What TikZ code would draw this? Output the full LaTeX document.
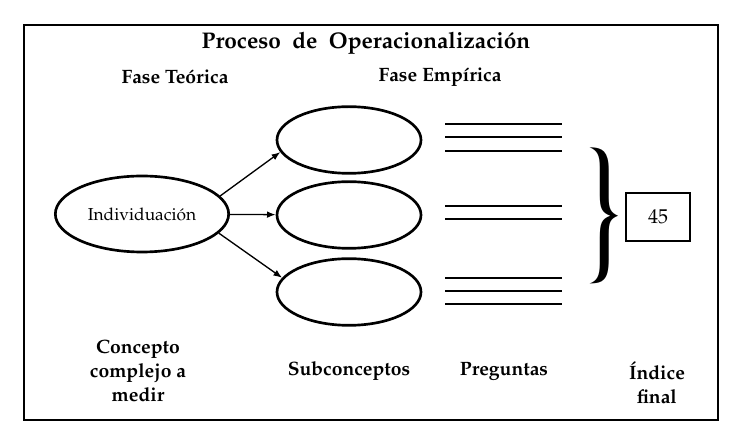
\documentclass[tikz,border=0pt]{standalone}
\usepackage[T1]{fontenc}
\usepackage{mathpazo}
\usetikzlibrary{positioning,arrows.meta,shapes,decorations.pathreplacing}
\tikzset{
  font=\fontsize{14.5}{18}\selectfont\bfseries
}

\begin{document}
\begin{tikzpicture}[x=0.75pt,y=-0.75pt,
  concept/.style={ellipse,draw,line width=2pt,minimum width=130pt,minimum height=57pt,font=\fontsize{13}{15}\selectfont\mdseries},
  sub/.style={ellipse,draw,line width=2pt,minimum width=108pt,minimum height=50pt},
  label/.style={align=center},
  ask/.style={line width=1.3pt},
  >={Latex[length=6.5pt,width=5pt]}]
\useasboundingbox (0,0) rectangle (749,448);
\draw[line width=1.5pt] (24,25) rectangle (718,420);
\node (title) at (366,43) {\fontsize{17}{20}\selectfont Proceso\hspace{0.5em}de\hspace{0.5em}Operacionalización};
\node (teo) at (175,77) {Fase Teórica};
\node (emp) at (440,77) {Fase Empírica};
\node[concept] (ind) at (142,214) {Individuación};
\node[sub] (sub1) at (349,140) {};
\node[sub] (sub2) at (349,215) {};
\node[sub] (sub3) at (349,292) {};
\path[->,line width=1pt] (ind.13) edge (sub1.190)
          (ind) edge (sub2)
          (ind.-14) edge (sub3.168);
% preguntas
\foreach \y in {124,137,151,206,219,278,291,304}
  \draw[ask] (445,\y) -- (562,\y);
\node[draw,line width=1.3pt,minimum width=48pt,minimum height=36pt,font=\fontsize{15}{17}\selectfont\mdseries] (idx) at (658,217) {45};
\node[inner sep=0pt] (brace) at (605,215) {\resizebox{31pt}{82pt}{\mdseries\}}};
\node[label] (cc) at (138,371) {Concepto\\complejo a\\medir};
\node[label] (sc) at (349,371) {Subconceptos};
\node[label] (pr) at (504,371) {Preguntas};
\node[label] (fin) at (657,383) {Índice\\final};
\end{tikzpicture}
\end{document}
